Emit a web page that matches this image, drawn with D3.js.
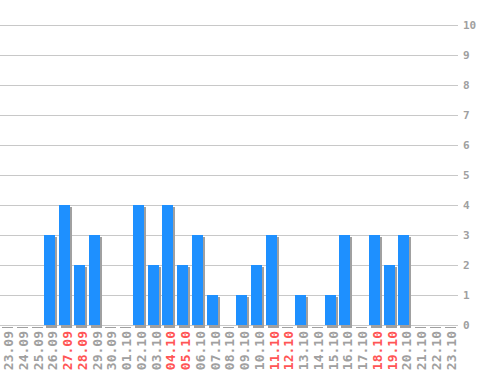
<!DOCTYPE html>
<html><head><meta charset="utf-8">
<script src="https://cdn.jsdelivr.net/npm/d3@7"></script>
<style>html,body{margin:0;padding:0;background:#fff;}svg{display:block;}</style>
</head><body>
<script>
const categories = ["23.09","24.09","25.09","26.09","27.09","28.09","29.09","30.09","01.10","02.10","03.10","04.10","05.10","06.10","07.10","08.10","09.10","10.10","11.10","12.10","13.10","14.10","15.10","16.10","17.10","18.10","19.10","20.10","21.10","22.10","23.10"];
const values = [0,0,0,3,4,2,3,0,0,4,2,4,2,3,1,0,1,2,3,0,1,0,1,3,0,3,2,3,0,0,0];
const weekend = ["27.09","28.09","04.10","05.10","11.10","12.10","18.10","19.10"];
const yTicks = [0,1,2,3,4,5,6,7,8,9,10];

const W = 498, H = 370;
const svg = d3.select("body").append("svg").attr("width", W).attr("height", H);
const x = d3.scaleBand().domain(categories).range([0, 457.25]).padding(0);
const y = d3.scaleLinear().domain([0, 10]).range([325, 25]);

// gridlines
svg.append("g").selectAll("line").data(yTicks).join("line")
  .attr("x1", 0).attr("x2", 458)
  .attr("y1", d => y(d) + 0.5).attr("y2", d => y(d) + 0.5)
  .attr("stroke", "#c8c8c8").attr("stroke-width", 1);

// y labels
svg.append("g").selectAll("text").data(yTicks).join("text")
  .attr("x", 463).attr("y", d => y(d)).attr("dy", "0.36em")
  .attr("font-family", "DejaVu Sans Mono").attr("font-size", 11).attr("font-weight", "bold")
  .attr("fill", "#a0a0a0").text(d => d);

const bw = 11;
const bx = d => Math.round(x(d));
// shadows
svg.append("g").selectAll("rect").data(categories).join("rect")
  .attr("x", d => bx(d) + 2).attr("y", (d, i) => y(values[i]) + 2)
  .attr("width", bw).attr("height", (d, i) => y(0) - y(values[i]) + 1)
  .attr("fill", "#a0a0a0");
// bars
svg.append("g").selectAll("rect").data(categories).join("rect")
  .attr("x", d => bx(d)).attr("y", (d, i) => y(values[i]))
  .attr("width", bw).attr("height", (d, i) => y(0) - y(values[i]))
  .attr("fill", "#1e90ff");

// x labels
svg.append("g").selectAll("text").data(categories).join("text")
  .attr("transform", d => `translate(${x(d) + 8.5},331) rotate(-90)`)
  .attr("text-anchor", "end").attr("dy", "0.36em")
  .attr("font-family", "DejaVu Sans Mono").attr("font-size", 13).attr("font-weight", "bold")
  .attr("fill", d => weekend.includes(d) ? "#ff5555" : "#a0a0a0").text(d => d);
</script>
</body></html>
